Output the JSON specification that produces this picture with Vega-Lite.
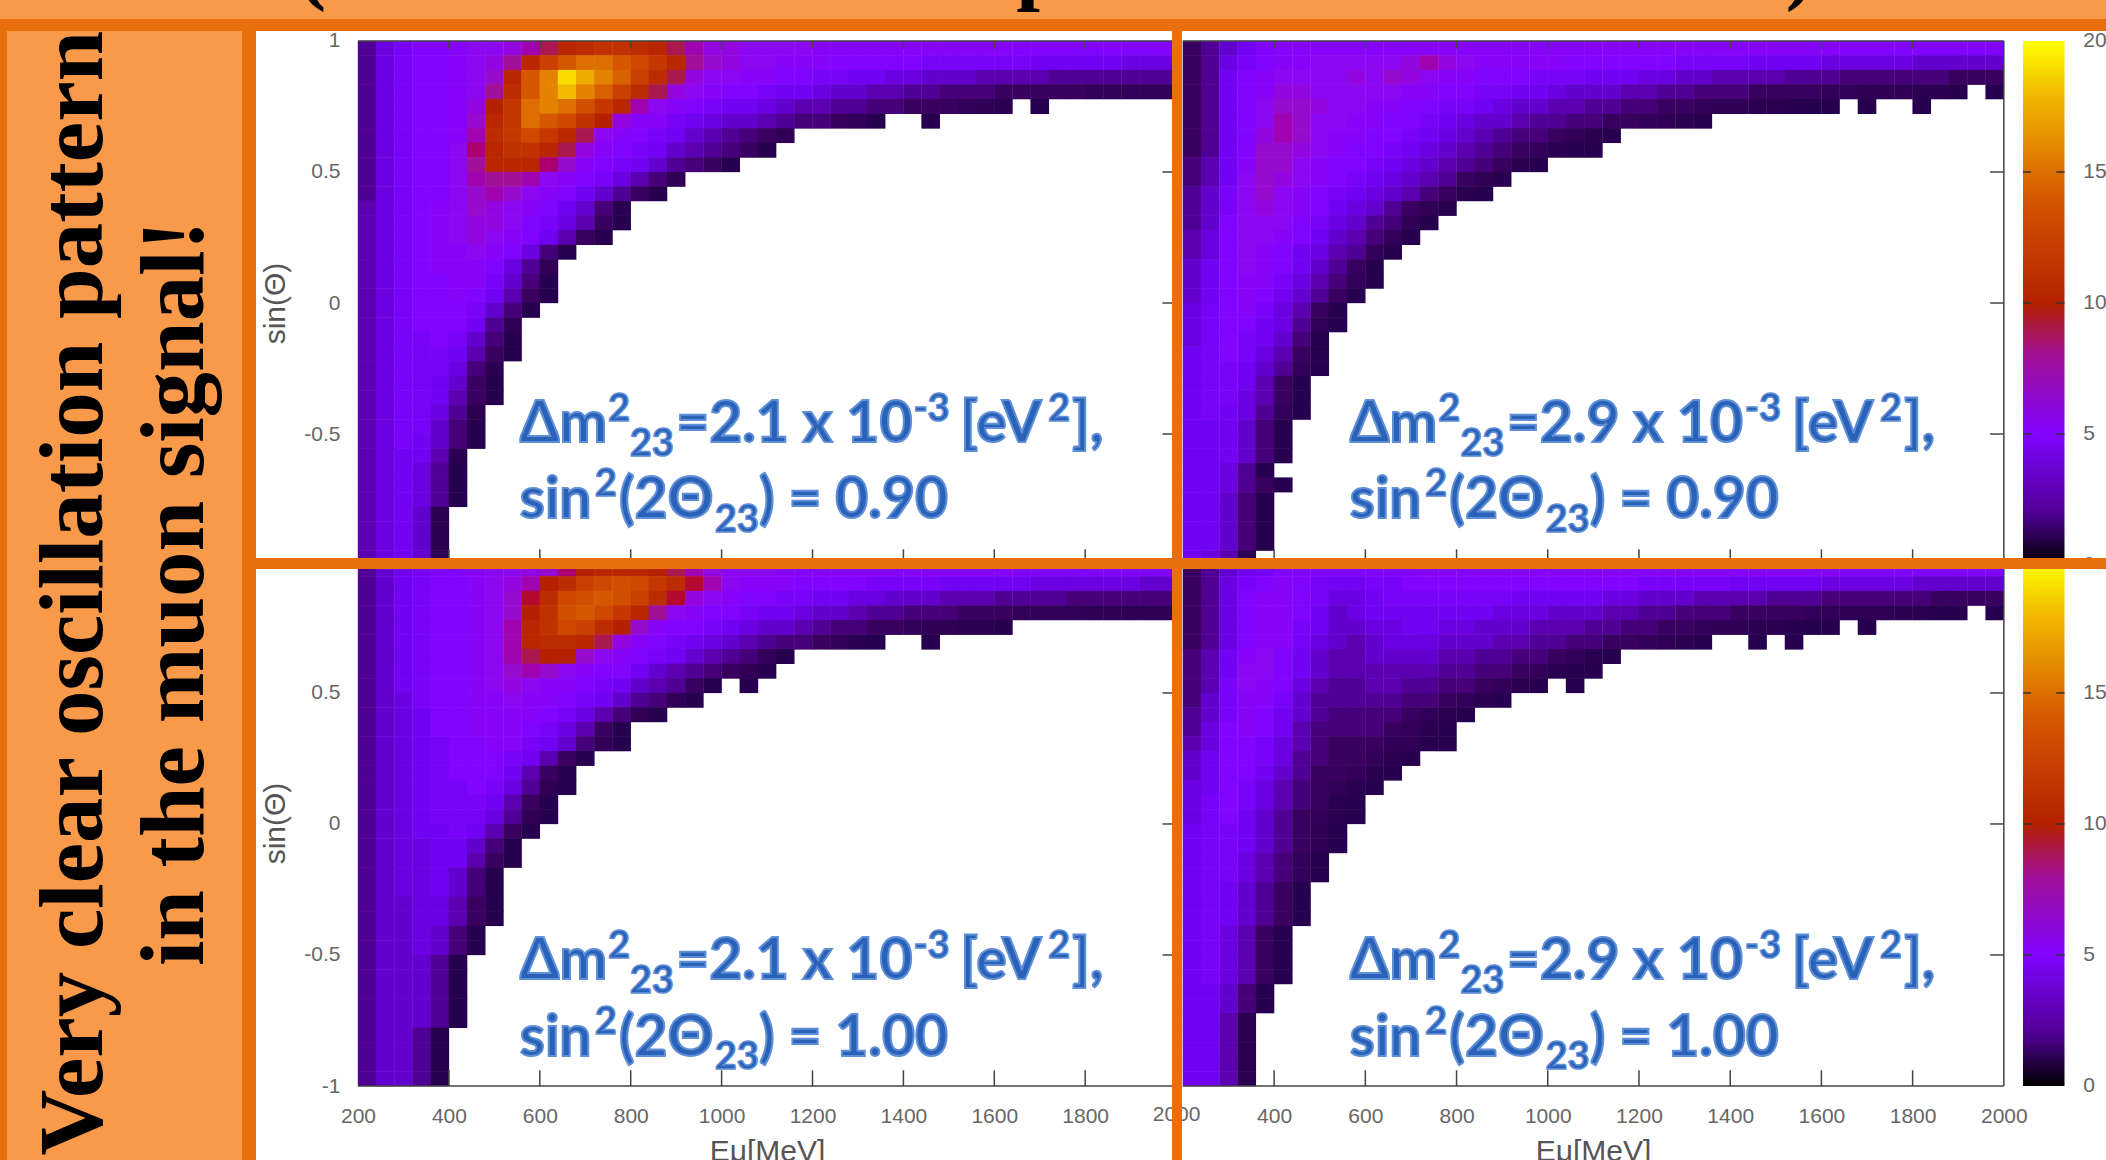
{"$schema":"https://vega.github.io/schema/vega-lite/v6.json","background":"#e96f0c","padding":0,
"config":{"view":{"stroke":null},"axis":{"labelFont":"Liberation Sans","titleFont":"Liberation Sans","labelFontSize":21,"titleFontSize":30,"labelColor":"#666","titleColor":"#555","titleFontWeight":"normal","grid":false,"domain":false,"ticks":false}},
"datasets":{
"cells":[
{"x":220,"y":0.972,"a":2,"b":1,"c":2,"d":1},{"x":260,"y":0.972,"a":3.5,"b":2,"c":3,"d":2},{"x":300,"y":0.972,"a":4.5,"b":3,"c":4,"d":3},{"x":340,"y":0.972,"a":5,"b":4,"c":4.5,"d":4},{"x":380,"y":0.972,"a":5,"b":5,"c":5,"d":4.5},{"x":420,"y":0.972,"a":5.5,"b":5.5,"c":5,"d":5},{"x":460,"y":0.972,"a":6,"b":5.5,"c":5.5,"d":5},{"x":500,"y":0.972,"a":6,"b":5.5,"c":6,"d":5},{"x":540,"y":0.972,"a":6.5,"b":5.5,"c":6,"d":5},{"x":580,"y":0.972,"a":7.5,"b":5.5,"c":6.5,"d":5},{"x":620,"y":0.972,"a":9,"b":5.5,"c":7,"d":5},{"x":660,"y":0.972,"a":10.5,"b":5.5,"c":8.5,"d":5},{"x":700,"y":0.972,"a":11,"b":5.5,"c":10,"d":5},{"x":740,"y":0.972,"a":11.5,"b":5.5,"c":10.5,"d":5.5},{"x":780,"y":0.972,"a":11.5,"b":5.5,"c":10.5,"d":5.5},{"x":820,"y":0.972,"a":11,"b":5.5,"c":10.5,"d":5.5},{"x":860,"y":0.972,"a":10.5,"b":5.5,"c":10,"d":5.5},{"x":900,"y":0.972,"a":9,"b":5.5,"c":9,"d":5.5},{"x":940,"y":0.972,"a":7.5,"b":5.5,"c":7.5,"d":5.5},{"x":980,"y":0.972,"a":6.5,"b":5.5,"c":6.5,"d":5.5},{"x":1020,"y":0.972,"a":6.5,"b":5.5,"c":6,"d":5.5},{"x":1060,"y":0.972,"a":6,"b":5.5,"c":6,"d":5.5},{"x":1100,"y":0.972,"a":6,"b":5.5,"c":6,"d":5.5},{"x":1140,"y":0.972,"a":6,"b":5.5,"c":5.5,"d":5.5},{"x":1180,"y":0.972,"a":6,"b":5.5,"c":5.5,"d":5.5},{"x":1220,"y":0.972,"a":5.5,"b":5.5,"c":5.5,"d":5.5},{"x":1260,"y":0.972,"a":5.5,"b":5.5,"c":5.5,"d":5.5},{"x":1300,"y":0.972,"a":5.5,"b":5.5,"c":5.5,"d":5.5},{"x":1340,"y":0.972,"a":5.5,"b":5.5,"c":5.5,"d":5.5},{"x":1380,"y":0.972,"a":5.5,"b":5.5,"c":5.5,"d":5.5},{"x":1420,"y":0.972,"a":5.5,"b":5.5,"c":5.5,"d":5.5},{"x":1460,"y":0.972,"a":5.5,"b":5.5,"c":5.5,"d":5.5},{"x":1500,"y":0.972,"a":5.5,"b":5.5,"c":5.5,"d":5.5},{"x":1540,"y":0.972,"a":5.5,"b":5.5,"c":5.5,"d":5.5},{"x":1580,"y":0.972,"a":5.5,"b":5.5,"c":5.5,"d":5.5},{"x":1620,"y":0.972,"a":5.5,"b":5.5,"c":5.5,"d":5.5},{"x":1660,"y":0.972,"a":5,"b":5,"c":5,"d":5},{"x":1700,"y":0.972,"a":5,"b":5,"c":5,"d":5},{"x":1740,"y":0.972,"a":5,"b":5,"c":5,"d":5},{"x":1780,"y":0.972,"a":5,"b":5,"c":5,"d":5},{"x":1820,"y":0.972,"a":5,"b":5,"c":5,"d":5},{"x":1860,"y":0.972,"a":5,"b":5,"c":5,"d":5},{"x":1900,"y":0.972,"a":5,"b":5,"c":5,"d":5},{"x":1940,"y":0.972,"a":5,"b":5,"c":5,"d":5},{"x":1980,"y":0.972,"a":5,"b":5,"c":5,"d":5},
{"x":220,"y":0.917,"a":2,"b":1,"c":2,"d":1},{"x":260,"y":0.917,"a":3.5,"b":2,"c":3,"d":2},{"x":300,"y":0.917,"a":4.5,"b":3.5,"c":4,"d":3.5},{"x":340,"y":0.917,"a":5,"b":4.5,"c":4.5,"d":4.5},{"x":380,"y":0.917,"a":5,"b":5,"c":5,"d":5},{"x":420,"y":0.917,"a":5.5,"b":5.5,"c":5,"d":5.5},{"x":460,"y":0.917,"a":6,"b":5.5,"c":5.5,"d":5},{"x":500,"y":0.917,"a":6.5,"b":6,"c":6,"d":4.5},{"x":540,"y":0.917,"a":8,"b":6,"c":6.5,"d":4},{"x":580,"y":0.917,"a":10.5,"b":6,"c":7.5,"d":4},{"x":620,"y":0.917,"a":12.5,"b":6,"c":10,"d":4.5},{"x":660,"y":0.917,"a":14,"b":6,"c":11,"d":4.5},{"x":700,"y":0.917,"a":15,"b":6.5,"c":12.5,"d":5},{"x":740,"y":0.917,"a":15,"b":7.5,"c":13,"d":5},{"x":780,"y":0.917,"a":14,"b":6.5,"c":13.5,"d":5},{"x":820,"y":0.917,"a":13,"b":6,"c":13,"d":5},{"x":860,"y":0.917,"a":12,"b":5.5,"c":12,"d":5},{"x":900,"y":0.917,"a":10.5,"b":5.5,"c":11,"d":5},{"x":940,"y":0.917,"a":8,"b":5.5,"c":9.5,"d":5},{"x":980,"y":0.917,"a":7,"b":5.5,"c":7.5,"d":5},{"x":1020,"y":0.917,"a":6.5,"b":5.5,"c":6,"d":5},{"x":1060,"y":0.917,"a":6,"b":5,"c":5.5,"d":5},{"x":1100,"y":0.917,"a":6,"b":5,"c":5.5,"d":5},{"x":1140,"y":0.917,"a":5.5,"b":5,"c":5.5,"d":5},{"x":1180,"y":0.917,"a":5.5,"b":5,"c":5,"d":5},{"x":1220,"y":0.917,"a":5.5,"b":5,"c":5,"d":4.5},{"x":1260,"y":0.917,"a":5,"b":5,"c":5,"d":4.5},{"x":1300,"y":0.917,"a":5,"b":4.5,"c":5,"d":4.5},{"x":1340,"y":0.917,"a":5,"b":4.5,"c":4.5,"d":4.5},{"x":1380,"y":0.917,"a":5,"b":4.5,"c":4.5,"d":4.5},{"x":1420,"y":0.917,"a":5,"b":4.5,"c":4.5,"d":4},{"x":1460,"y":0.917,"a":4.5,"b":4,"c":4.5,"d":4},{"x":1500,"y":0.917,"a":4.5,"b":4,"c":4,"d":4},{"x":1540,"y":0.917,"a":4.5,"b":4,"c":4,"d":4},{"x":1580,"y":0.917,"a":4.5,"b":4,"c":4,"d":4},{"x":1620,"y":0.917,"a":4.5,"b":3.5,"c":4,"d":3.5},{"x":1660,"y":0.917,"a":4.5,"b":3.5,"c":4,"d":3.5},{"x":1700,"y":0.917,"a":4,"b":3.5,"c":3.5,"d":3.5},{"x":1740,"y":0.917,"a":4,"b":3.5,"c":3.5,"d":3.5},{"x":1780,"y":0.917,"a":4,"b":3.5,"c":3.5,"d":3.5},{"x":1820,"y":0.917,"a":4,"b":3,"c":3.5,"d":3},{"x":1860,"y":0.917,"a":4,"b":3,"c":3.5,"d":3},{"x":1900,"y":0.917,"a":3.5,"b":3,"c":3.5,"d":3},{"x":1940,"y":0.917,"a":3.5,"b":3,"c":3,"d":3},{"x":1980,"y":0.917,"a":3.5,"b":3,"c":3,"d":3},
{"x":220,"y":0.861,"a":2,"b":1,"c":2,"d":1},{"x":260,"y":0.861,"a":3.5,"b":2,"c":3,"d":2},{"x":300,"y":0.861,"a":4.5,"b":4,"c":4,"d":3.5},{"x":340,"y":0.861,"a":5,"b":5,"c":4.5,"d":5},{"x":380,"y":0.861,"a":5,"b":5.5,"c":5,"d":5.5},{"x":420,"y":0.861,"a":5.5,"b":6,"c":5,"d":5.5},{"x":460,"y":0.861,"a":6,"b":6,"c":5.5,"d":5},{"x":500,"y":0.861,"a":7,"b":6,"c":6,"d":4.5},{"x":540,"y":0.861,"a":10.5,"b":6,"c":7,"d":3.5},{"x":580,"y":0.861,"a":14,"b":6.5,"c":9.5,"d":3.5},{"x":620,"y":0.861,"a":16,"b":6,"c":11,"d":4},{"x":660,"y":0.861,"a":19,"b":7,"c":13,"d":4.5},{"x":700,"y":0.861,"a":17.5,"b":6.5,"c":13.5,"d":4.5},{"x":740,"y":0.861,"a":16,"b":6,"c":14,"d":4.5},{"x":780,"y":0.861,"a":14.5,"b":5.5,"c":13.5,"d":4.5},{"x":820,"y":0.861,"a":12.5,"b":5.5,"c":12.5,"d":4.5},{"x":860,"y":0.861,"a":11,"b":5,"c":11,"d":4.5},{"x":900,"y":0.861,"a":9,"b":5,"c":9.5,"d":4.5},{"x":940,"y":0.861,"a":6.5,"b":5,"c":6.5,"d":4},{"x":980,"y":0.861,"a":6,"b":4.5,"c":6,"d":4},{"x":1020,"y":0.861,"a":6,"b":4.5,"c":5.5,"d":4},{"x":1060,"y":0.861,"a":5.5,"b":4.5,"c":5,"d":4},{"x":1100,"y":0.861,"a":5.5,"b":4,"c":5,"d":4},{"x":1140,"y":0.861,"a":5,"b":4,"c":4.5,"d":3.5},{"x":1180,"y":0.861,"a":5,"b":4,"c":4.5,"d":3.5},{"x":1220,"y":0.861,"a":4.5,"b":3.5,"c":4,"d":3},{"x":1260,"y":0.861,"a":4.5,"b":3.5,"c":4,"d":3},{"x":1300,"y":0.861,"a":4,"b":3,"c":3.5,"d":3},{"x":1340,"y":0.861,"a":4,"b":3,"c":3.5,"d":2.5},{"x":1380,"y":0.861,"a":3.5,"b":2.5,"c":3,"d":2.5},{"x":1420,"y":0.861,"a":3.5,"b":2.5,"c":3,"d":2.5},{"x":1460,"y":0.861,"a":3,"b":2.5,"c":3,"d":2.5},{"x":1500,"y":0.861,"a":3,"b":2.5,"c":2.5,"d":2},{"x":1540,"y":0.861,"a":3,"b":2,"c":2.5,"d":2},{"x":1580,"y":0.861,"a":2.5,"b":2,"c":2.5,"d":2},{"x":1620,"y":0.861,"a":2.5,"b":2,"c":2,"d":1.5},{"x":1660,"y":0.861,"a":2.5,"b":1.5,"c":2,"d":1.5},{"x":1700,"y":0.861,"a":2.5,"b":1.5,"c":2,"d":1.5},{"x":1740,"y":0.861,"a":2,"b":1.5,"c":2,"d":1.5},{"x":1780,"y":0.861,"a":2,"b":1.5,"c":1.5,"d":1.5},{"x":1820,"y":0.861,"a":2,"b":1.5,"c":1.5,"d":1.5},{"x":1860,"y":0.861,"a":2,"b":1.5,"c":1.5,"d":1},{"x":1900,"y":0.861,"a":2,"b":1,"c":1.5,"d":1},{"x":1940,"y":0.861,"a":2,"b":1,"c":1.5,"d":1},{"x":1980,"y":0.861,"a":2,"b":1,"c":1.5,"d":1},
{"x":220,"y":0.806,"a":2,"b":1,"c":2,"d":1},{"x":260,"y":0.806,"a":3.5,"b":2,"c":3,"d":2},{"x":300,"y":0.806,"a":4.5,"b":4,"c":4,"d":3.5},{"x":340,"y":0.806,"a":5,"b":5,"c":4.5,"d":5},{"x":380,"y":0.806,"a":5,"b":5.5,"c":5,"d":5.5},{"x":420,"y":0.806,"a":5.5,"b":6.5,"c":5,"d":5.5},{"x":460,"y":0.806,"a":6,"b":6.5,"c":5.5,"d":5},{"x":500,"y":0.806,"a":8,"b":6,"c":6,"d":4},{"x":540,"y":0.806,"a":11,"b":6,"c":7,"d":3},{"x":580,"y":0.806,"a":14,"b":6,"c":10,"d":3.5},{"x":620,"y":0.806,"a":16,"b":6,"c":11.5,"d":4},{"x":660,"y":0.806,"a":18,"b":6,"c":13.5,"d":4},{"x":700,"y":0.806,"a":16,"b":5.5,"c":14,"d":4},{"x":740,"y":0.806,"a":14.5,"b":5.5,"c":13,"d":4},{"x":780,"y":0.806,"a":12.5,"b":5,"c":12,"d":4},{"x":820,"y":0.806,"a":11,"b":5,"c":10.5,"d":4},{"x":860,"y":0.806,"a":9,"b":4.5,"c":8,"d":4},{"x":900,"y":0.806,"a":6.5,"b":4.5,"c":6,"d":3.5},{"x":940,"y":0.806,"a":6,"b":4,"c":5.5,"d":3.5},{"x":980,"y":0.806,"a":5.5,"b":4,"c":5,"d":3.5},{"x":1020,"y":0.806,"a":5,"b":3.5,"c":5,"d":3},{"x":1060,"y":0.806,"a":5,"b":3,"c":4.5,"d":3},{"x":1100,"y":0.806,"a":4.5,"b":3,"c":4,"d":3},{"x":1140,"y":0.806,"a":4,"b":3,"c":4,"d":2.5},{"x":1180,"y":0.806,"a":4,"b":2.5,"c":3.5,"d":2.5},{"x":1220,"y":0.806,"a":3.5,"b":2.5,"c":3,"d":2},{"x":1260,"y":0.806,"a":3,"b":2,"c":3,"d":2},{"x":1300,"y":0.806,"a":3,"b":2,"c":2.5,"d":1.5},{"x":1340,"y":0.806,"a":2.5,"b":1.5,"c":2,"d":1.5},{"x":1380,"y":0.806,"a":2.5,"b":1.5,"c":2,"d":1.5},{"x":1420,"y":0.806,"a":2,"b":1.5,"c":1.5,"d":1},{"x":1460,"y":0.806,"a":2,"b":1,"c":1.5,"d":1},{"x":1500,"y":0.806,"a":1.5,"b":1,"c":1.5,"d":1},{"x":1540,"y":0.806,"a":1.5,"b":1,"c":1,"d":1},{"x":1580,"y":0.806,"a":1.5,"b":1,"c":1,"d":0.8},{"x":1620,"y":0.806,"a":1,"b":0.8,"c":1,"d":0.8},{"x":1660,"y":0.806,"a":1,"b":0.8,"c":0.8,"d":0.7},{"x":1700,"y":0.806,"a":1,"b":0.7,"c":0.8,"d":0.7},{"x":1740,"y":0.806,"a":1,"b":0.7,"c":0.8,"d":0.7},{"x":1780,"y":0.806,"a":1,"b":0.7,"c":0.8,"d":0.6},{"x":1820,"y":0.806,"a":0.8,"b":0.6,"c":0.7,"d":0.6},{"x":1860,"y":0.806,"a":0.8,"b":0.6,"c":0.7,"d":0.5},{"x":1900,"y":0.806,"a":0.8,"b":0.5,"c":0.7,"d":0.5},{"x":1940,"y":0.806,"a":0.8,"c":0.7},{"x":1980,"y":0.806,"a":0.8,"b":0.5,"c":0.7,"d":0.5},
{"x":220,"y":0.75,"a":2,"b":1,"c":2,"d":1},{"x":260,"y":0.75,"a":3.5,"b":2,"c":3,"d":2},{"x":300,"y":0.75,"a":4.5,"b":4,"c":4,"d":3.5},{"x":340,"y":0.75,"a":5,"b":5,"c":4.5,"d":5},{"x":380,"y":0.75,"a":5,"b":6,"c":5,"d":5.5},{"x":420,"y":0.75,"a":5.5,"b":7,"c":5,"d":5.5},{"x":460,"y":0.75,"a":6.5,"b":7,"c":5.5,"d":4.5},{"x":500,"y":0.75,"a":10,"b":6.5,"c":6,"d":4},{"x":540,"y":0.75,"a":12,"b":6,"c":7.5,"d":3},{"x":580,"y":0.75,"a":15,"b":6,"c":10.5,"d":3},{"x":620,"y":0.75,"a":16,"b":5.5,"c":11.5,"d":3.5},{"x":660,"y":0.75,"a":15,"b":5.5,"c":13,"d":3.5},{"x":700,"y":0.75,"a":13.5,"b":5,"c":12.5,"d":4},{"x":740,"y":0.75,"a":12,"b":5,"c":11,"d":4},{"x":780,"y":0.75,"a":10.5,"b":4.5,"c":10,"d":3.5},{"x":820,"y":0.75,"a":7.5,"b":4.5,"c":7,"d":3.5},{"x":860,"y":0.75,"a":6,"b":4,"c":5.5,"d":3},{"x":900,"y":0.75,"a":5.5,"b":3.5,"c":5,"d":3},{"x":940,"y":0.75,"a":5,"b":3,"c":5,"d":3},{"x":980,"y":0.75,"a":4.5,"b":3,"c":4.5,"d":2.5},{"x":1020,"y":0.75,"a":4,"b":2.5,"c":4,"d":2.5},{"x":1060,"y":0.75,"a":4,"b":2.5,"c":3.5,"d":2.5},{"x":1100,"y":0.75,"a":3.5,"b":2,"c":3,"d":2},{"x":1140,"y":0.75,"a":3,"b":2,"c":3,"d":2},{"x":1180,"y":0.75,"a":2.5,"b":1.5,"c":2.5,"d":1.5},{"x":1220,"y":0.75,"a":2.5,"b":1.5,"c":2,"d":1.5},{"x":1260,"y":0.75,"a":2,"b":1,"c":1.5,"d":1},{"x":1300,"y":0.75,"a":2,"b":1,"c":1.5,"d":1},{"x":1340,"y":0.75,"a":1.5,"b":0.8,"c":1,"d":0.8},{"x":1380,"y":0.75,"a":1.5,"b":0.7,"c":1,"d":0.7},{"x":1420,"y":0.75,"a":1,"b":0.7,"c":0.8,"d":0.7},{"x":1460,"y":0.75,"a":1,"b":0.6,"c":0.7,"d":0.6},{"x":1500,"y":0.75,"a":1,"b":0.6,"c":0.7,"d":0.6},{"x":1540,"y":0.75,"a":0.8,"b":0.5,"c":0.6,"d":0.5},{"x":1580,"y":0.75,"a":0.7,"b":0.5,"c":0.6,"d":0.5},{"x":1620,"y":0.75,"a":0.6,"b":0.5,"c":0.5,"d":0.5},{"x":1700,"y":0.75,"a":0.5,"b":0.5,"d":0.5},{"x":1820,"y":0.75,"b":0.5},
{"x":220,"y":0.694,"a":2,"b":1,"c":2,"d":1},{"x":260,"y":0.694,"a":3.5,"b":2,"c":3,"d":2},{"x":300,"y":0.694,"a":4.5,"b":4,"c":4,"d":3.5},{"x":340,"y":0.694,"a":5,"b":5,"c":4.5,"d":5},{"x":380,"y":0.694,"a":5,"b":6,"c":5,"d":5.5},{"x":420,"y":0.694,"a":5.5,"b":7.5,"c":5,"d":5.5},{"x":460,"y":0.694,"a":7,"b":7,"c":5.5,"d":4.5},{"x":500,"y":0.694,"a":10.5,"b":6,"c":6,"d":3.5},{"x":540,"y":0.694,"a":12,"b":6,"c":7.5,"d":3},{"x":580,"y":0.694,"a":15,"b":5.5,"c":10.5,"d":2.5},{"x":620,"y":0.694,"a":14,"b":5.5,"c":11,"d":3},{"x":660,"y":0.694,"a":13,"b":5,"c":11,"d":3.5},{"x":700,"y":0.694,"a":11.5,"b":5,"c":10.5,"d":3.5},{"x":740,"y":0.694,"a":10,"b":4.5,"c":9,"d":3.5},{"x":780,"y":0.694,"a":6.5,"b":4,"c":6.5,"d":3},{"x":820,"y":0.694,"a":5.5,"b":3.5,"c":5.5,"d":3},{"x":860,"y":0.694,"a":5.5,"b":3,"c":5,"d":3},{"x":900,"y":0.694,"a":4.5,"b":3,"c":4.5,"d":2.5},{"x":940,"y":0.694,"a":4,"b":2.5,"c":4,"d":2.5},{"x":980,"y":0.694,"a":3.5,"b":2,"c":3.5,"d":2},{"x":1020,"y":0.694,"a":3,"b":2,"c":3,"d":2},{"x":1060,"y":0.694,"a":3,"b":1.5,"c":2.5,"d":1.5},{"x":1100,"y":0.694,"a":2.5,"b":1.5,"c":2,"d":1.5},{"x":1140,"y":0.694,"a":2,"b":1,"c":1.5,"d":1},{"x":1180,"y":0.694,"a":1.5,"b":1,"c":1.5,"d":1},{"x":1220,"y":0.694,"a":1.5,"b":0.8,"c":1,"d":0.8},{"x":1260,"y":0.694,"a":1,"b":0.7,"c":0.8,"d":0.7},{"x":1300,"y":0.694,"a":0.8,"b":0.6,"c":0.6,"d":0.6},{"x":1340,"y":0.694,"a":0.5,"b":0.5,"c":0.5,"d":0.5},{"x":1460,"y":0.694,"a":0.5,"c":0.5,"d":0.5},{"x":1540,"y":0.694,"d":0.5},
{"x":220,"y":0.639,"a":2,"b":1,"c":2,"d":1.5},{"x":260,"y":0.639,"a":3.5,"b":2,"c":3,"d":2.5},{"x":300,"y":0.639,"a":4.5,"b":4,"c":4,"d":4},{"x":340,"y":0.639,"a":5,"b":5,"c":4.5,"d":5.5},{"x":380,"y":0.639,"a":5,"b":6.5,"c":5,"d":6},{"x":420,"y":0.639,"a":5.5,"b":7.5,"c":5,"d":5},{"x":460,"y":0.639,"a":7.5,"b":7,"c":5.5,"d":4},{"x":500,"y":0.639,"a":11,"b":6,"c":6,"d":3},{"x":540,"y":0.639,"a":12,"b":5.5,"c":7.5,"d":2.5},{"x":580,"y":0.639,"a":13,"b":5.5,"c":9,"d":2.5},{"x":620,"y":0.639,"a":12,"b":5,"c":10,"d":3},{"x":660,"y":0.639,"a":10.5,"b":5,"c":10,"d":3},{"x":700,"y":0.639,"a":9,"b":4.5,"c":7,"d":3},{"x":740,"y":0.639,"a":6,"b":4,"c":6,"d":3},{"x":780,"y":0.639,"a":5.5,"b":3.5,"c":5.5,"d":2.5},{"x":820,"y":0.639,"a":5,"b":3,"c":5,"d":2.5},{"x":860,"y":0.639,"a":4.5,"b":2.5,"c":4.5,"d":2},{"x":900,"y":0.639,"a":4,"b":2,"c":4,"d":2},{"x":940,"y":0.639,"a":3,"b":1.5,"c":3,"d":1.5},{"x":980,"y":0.639,"a":2.5,"b":1.5,"c":2.5,"d":1.5},{"x":1020,"y":0.639,"a":2,"b":1,"c":2,"d":1},{"x":1060,"y":0.639,"a":1.5,"b":0.8,"c":1.5,"d":0.8},{"x":1100,"y":0.639,"a":1,"b":0.6,"c":0.8,"d":0.6},{"x":1140,"y":0.639,"a":0.7,"b":0.5,"c":0.5,"d":0.5},
{"x":220,"y":0.583,"a":2,"b":1,"c":2,"d":1.5},{"x":260,"y":0.583,"a":3.5,"b":2,"c":3,"d":2.5},{"x":300,"y":0.583,"a":4.5,"b":4,"c":4,"d":4},{"x":340,"y":0.583,"a":5,"b":5,"c":4.5,"d":6},{"x":380,"y":0.583,"a":5,"b":7,"c":5,"d":6},{"x":420,"y":0.583,"a":6,"b":7,"c":5,"d":5},{"x":460,"y":0.583,"a":8.5,"b":6.5,"c":5.5,"d":4},{"x":500,"y":0.583,"a":10.5,"b":6,"c":6,"d":3},{"x":540,"y":0.583,"a":11.5,"b":5.5,"c":7,"d":2.5},{"x":580,"y":0.583,"a":11.5,"b":5,"c":7.5,"d":2.5},{"x":620,"y":0.583,"a":10.5,"b":5,"c":7,"d":2.5},{"x":660,"y":0.583,"a":9,"b":4.5,"c":6,"d":2.5},{"x":700,"y":0.583,"a":6.5,"b":4,"c":5.5,"d":2.5},{"x":740,"y":0.583,"a":5.5,"b":3.5,"c":5,"d":2.5},{"x":780,"y":0.583,"a":5,"b":3,"c":5,"d":2},{"x":820,"y":0.583,"a":4.5,"b":2.5,"c":4,"d":2},{"x":860,"y":0.583,"a":4,"b":2,"c":3,"d":1.5},{"x":900,"y":0.583,"a":3,"b":1.5,"c":2.5,"d":1.5},{"x":940,"y":0.583,"a":2.5,"b":1,"c":2,"d":1},{"x":980,"y":0.583,"a":2,"b":0.8,"c":1.5,"d":0.8},{"x":1020,"y":0.583,"a":1.5,"b":0.6,"c":1,"d":0.6},{"x":1060,"y":0.583,"a":1,"b":0.5,"c":0.7,"d":0.5},{"x":1100,"y":0.583,"a":0.5,"b":0.5,"c":0.5,"d":0.5},
{"x":220,"y":0.528,"a":2,"b":1.5,"c":2,"d":1.5},{"x":260,"y":0.528,"a":3.5,"b":2.5,"c":3,"d":2.5},{"x":300,"y":0.528,"a":4.5,"b":4,"c":4,"d":4.5},{"x":340,"y":0.528,"a":5,"b":5.5,"c":4.5,"d":6},{"x":380,"y":0.528,"a":5,"b":7,"c":5,"d":5.5},{"x":420,"y":0.528,"a":6,"b":7,"c":5,"d":5},{"x":460,"y":0.528,"a":8,"b":6,"c":5.5,"d":3.5},{"x":500,"y":0.528,"a":10.5,"b":5.5,"c":6,"d":2.5},{"x":540,"y":0.528,"a":10.5,"b":5,"c":6.5,"d":2},{"x":580,"y":0.528,"a":10.5,"b":5,"c":6,"d":2},{"x":620,"y":0.528,"a":8.5,"b":4.5,"c":5.5,"d":2.5},{"x":660,"y":0.528,"a":7,"b":4,"c":5.5,"d":2.5},{"x":700,"y":0.528,"a":5.5,"b":3.5,"c":5,"d":2},{"x":740,"y":0.528,"a":5,"b":3,"c":4.5,"d":2},{"x":780,"y":0.528,"a":4.5,"b":2.5,"c":4,"d":1.5},{"x":820,"y":0.528,"a":4,"b":2,"c":3,"d":1.5},{"x":860,"y":0.528,"a":3,"b":1.5,"c":2.5,"d":1},{"x":900,"y":0.528,"a":2,"b":1,"c":2,"d":0.8},{"x":940,"y":0.528,"a":1.5,"b":0.6,"c":1,"d":0.6},{"x":980,"y":0.528,"a":1,"b":0.5,"c":0.5,"d":0.5},{"x":1020,"y":0.528,"a":0.5},{"x":1060,"y":0.528,"c":0.5,"d":0.5},
{"x":220,"y":0.472,"a":2,"b":1.5,"c":2,"d":1.5},{"x":260,"y":0.472,"a":3.5,"b":2.5,"c":3,"d":3},{"x":300,"y":0.472,"a":4.5,"b":4,"c":3.5,"d":4.5},{"x":340,"y":0.472,"a":5,"b":6,"c":4.5,"d":5.5},{"x":380,"y":0.472,"a":5,"b":7,"c":5,"d":5.5},{"x":420,"y":0.472,"a":6,"b":6.5,"c":5,"d":4.5},{"x":460,"y":0.472,"a":7.5,"b":6,"c":5.5,"d":3},{"x":500,"y":0.472,"a":8,"b":5.5,"c":5.5,"d":2},{"x":540,"y":0.472,"a":8,"b":5,"c":6,"d":2},{"x":580,"y":0.472,"a":7.5,"b":4.5,"c":5.5,"d":2},{"x":620,"y":0.472,"a":6,"b":4,"c":5.5,"d":2},{"x":660,"y":0.472,"a":5.5,"b":3.5,"c":5,"d":2},{"x":700,"y":0.472,"a":5,"b":3,"c":4.5,"d":1.5},{"x":740,"y":0.472,"a":4.5,"b":2.5,"c":4,"d":1.5},{"x":780,"y":0.472,"a":3.5,"b":2,"c":3,"d":1},{"x":820,"y":0.472,"a":2.5,"b":1,"c":2,"d":0.8},{"x":860,"y":0.472,"a":1.5,"b":0.7,"c":1.5,"d":0.6},{"x":900,"y":0.472,"a":0.7,"b":0.5,"c":0.7,"d":0.5},{"x":940,"y":0.472,"c":0.5},
{"x":220,"y":0.417,"a":2,"b":2,"c":2,"d":2},{"x":260,"y":0.417,"a":3.5,"b":3,"c":3,"d":3},{"x":300,"y":0.417,"a":4.5,"b":4.5,"c":3.5,"d":4.5},{"x":340,"y":0.417,"a":5,"b":6,"c":4,"d":5.5},{"x":380,"y":0.417,"a":5,"b":7,"c":5,"d":5},{"x":420,"y":0.417,"a":6,"b":6,"c":5,"d":4},{"x":460,"y":0.417,"a":7,"b":5.5,"c":5.5,"d":3},{"x":500,"y":0.417,"a":7.5,"b":5,"c":5.5,"d":2},{"x":540,"y":0.417,"a":7,"b":4.5,"c":5.5,"d":1.5},{"x":580,"y":0.417,"a":6,"b":4,"c":5.5,"d":1.5},{"x":620,"y":0.417,"a":5.5,"b":3.5,"c":5,"d":1.5},{"x":660,"y":0.417,"a":5,"b":3,"c":4.5,"d":1.5},{"x":700,"y":0.417,"a":4,"b":2.5,"c":3.5,"d":1},{"x":740,"y":0.417,"a":3,"b":1.5,"c":2.5,"d":0.8},{"x":780,"y":0.417,"a":2,"b":1,"c":1.5,"d":0.6},{"x":820,"y":0.417,"a":1,"b":0.6,"c":0.7,"d":0.5},{"x":860,"y":0.417,"a":0.5,"b":0.5,"c":0.5},
{"x":220,"y":0.361,"a":2.5,"b":2,"c":2,"d":2},{"x":260,"y":0.361,"a":3.5,"b":3,"c":3,"d":3.5},{"x":300,"y":0.361,"a":4.5,"b":4.5,"c":3.5,"d":5},{"x":340,"y":0.361,"a":5,"b":6,"c":4,"d":5.5},{"x":380,"y":0.361,"a":5.5,"b":6.5,"c":5,"d":5},{"x":420,"y":0.361,"a":6,"b":6,"c":5,"d":4},{"x":460,"y":0.361,"a":7,"b":5.5,"c":5.5,"d":2.5},{"x":500,"y":0.361,"a":6.5,"b":5,"c":5.5,"d":1.5},{"x":540,"y":0.361,"a":6,"b":4,"c":5.5,"d":1.5},{"x":580,"y":0.361,"a":5.5,"b":3.5,"c":5,"d":1.5},{"x":620,"y":0.361,"a":5,"b":3,"c":4.5,"d":1.5},{"x":660,"y":0.361,"a":4,"b":2,"c":3.5,"d":1},{"x":700,"y":0.361,"a":3,"b":1,"c":2.5,"d":0.8},{"x":740,"y":0.361,"a":1.5,"b":0.7,"c":1,"d":0.6},{"x":780,"y":0.361,"a":0.6,"b":0.5,"c":0.5,"d":0.5},
{"x":220,"y":0.306,"a":2.5,"b":2,"c":2,"d":2.5},{"x":260,"y":0.306,"a":3.5,"b":3,"c":3,"d":3.5},{"x":300,"y":0.306,"a":4.5,"b":5,"c":3.5,"d":5},{"x":340,"y":0.306,"a":5,"b":6,"c":4,"d":5},{"x":380,"y":0.306,"a":5.5,"b":6,"c":4.5,"d":4.5},{"x":420,"y":0.306,"a":6,"b":6,"c":5,"d":3.5},{"x":460,"y":0.306,"a":6.5,"b":5,"c":5,"d":2.5},{"x":500,"y":0.306,"a":6.5,"b":4.5,"c":5.5,"d":1.5},{"x":540,"y":0.306,"a":6,"b":3.5,"c":5.5,"d":1},{"x":580,"y":0.306,"a":5,"b":3,"c":4.5,"d":1},{"x":620,"y":0.306,"a":4.5,"b":2,"c":4,"d":1},{"x":660,"y":0.306,"a":3.5,"b":1.5,"c":3,"d":0.8},{"x":700,"y":0.306,"a":2.5,"b":0.7,"c":1.5,"d":0.7},{"x":740,"y":0.306,"a":1,"b":0.5,"c":0.7,"d":0.5},{"x":780,"y":0.306,"a":0.5,"c":0.5,"d":0.5},
{"x":220,"y":0.25,"a":2.5,"b":2.5,"c":2,"d":3},{"x":260,"y":0.25,"a":3.5,"b":3.5,"c":3,"d":4},{"x":300,"y":0.25,"a":4.5,"b":5,"c":3.5,"d":5},{"x":340,"y":0.25,"a":5,"b":6,"c":4,"d":5},{"x":380,"y":0.25,"a":5.5,"b":6,"c":4.5,"d":4.5},{"x":420,"y":0.25,"a":6,"b":5.5,"c":5,"d":3.5},{"x":460,"y":0.25,"a":6.5,"b":5,"c":5,"d":2},{"x":500,"y":0.25,"a":6,"b":4,"c":5,"d":1.5},{"x":540,"y":0.25,"a":5.5,"b":3,"c":4.5,"d":1},{"x":580,"y":0.25,"a":5,"b":2.5,"c":4,"d":1},{"x":620,"y":0.25,"a":4,"b":1.5,"c":2.5,"d":0.8},{"x":660,"y":0.25,"a":2.5,"b":0.8,"c":1,"d":0.6},{"x":700,"y":0.25,"a":1,"b":0.5,"c":0.5,"d":0.5},{"x":740,"y":0.25,"a":0.5},
{"x":220,"y":0.194,"a":2.5,"b":2.5,"c":2,"d":3},{"x":260,"y":0.194,"a":3.5,"b":3.5,"c":3,"d":4},{"x":300,"y":0.194,"a":4.5,"b":5,"c":3.5,"d":5},{"x":340,"y":0.194,"a":5,"b":6,"c":4,"d":5},{"x":380,"y":0.194,"a":5.5,"b":5.5,"c":4.5,"d":4},{"x":420,"y":0.194,"a":5.5,"b":5,"c":5,"d":3},{"x":460,"y":0.194,"a":6,"b":4,"c":5,"d":2},{"x":500,"y":0.194,"a":5.5,"b":3.5,"c":5,"d":1},{"x":540,"y":0.194,"a":5,"b":2.5,"c":4,"d":1},{"x":580,"y":0.194,"a":3.5,"b":2,"c":2.5,"d":0.8},{"x":620,"y":0.194,"a":1.5,"b":0.8,"c":1,"d":0.6},{"x":660,"y":0.194,"a":0.5,"b":0.5,"c":0.5,"d":0.5},
{"x":220,"y":0.139,"a":2.5,"b":3,"c":2,"d":3.5},{"x":260,"y":0.139,"a":3.5,"b":4,"c":3,"d":4},{"x":300,"y":0.139,"a":4.5,"b":5,"c":3.5,"d":5},{"x":340,"y":0.139,"a":5,"b":6,"c":4,"d":4.5},{"x":380,"y":0.139,"a":5.5,"b":5.5,"c":4.5,"d":3.5},{"x":420,"y":0.139,"a":5.5,"b":5,"c":4.5,"d":2.5},{"x":460,"y":0.139,"a":5.5,"b":4,"c":5,"d":1.5},{"x":500,"y":0.139,"a":5,"b":3,"c":4.5,"d":1},{"x":540,"y":0.139,"a":3.5,"b":2,"c":3.5,"d":0.8},{"x":580,"y":0.139,"a":2,"b":1,"c":2,"d":0.6},{"x":620,"y":0.139,"a":0.7,"b":0.5,"c":0.7,"d":0.5},{"x":660,"y":0.139,"c":0.5},
{"x":220,"y":0.083,"a":2.5,"b":3,"c":2,"d":3.5},{"x":260,"y":0.083,"a":3.5,"b":4,"c":3,"d":4.5},{"x":300,"y":0.083,"a":4.5,"b":5,"c":3.5,"d":5},{"x":340,"y":0.083,"a":5,"b":5.5,"c":4,"d":4.5},{"x":380,"y":0.083,"a":5,"b":5.5,"c":4.5,"d":3.5},{"x":420,"y":0.083,"a":5.5,"b":4.5,"c":4.5,"d":2.5},{"x":460,"y":0.083,"a":5.5,"b":3.5,"c":4.5,"d":1.5},{"x":500,"y":0.083,"a":4.5,"b":2.5,"c":4,"d":1},{"x":540,"y":0.083,"a":3,"b":1.5,"c":2.5,"d":0.6},{"x":580,"y":0.083,"a":1.5,"b":0.8,"c":1,"d":0.5},{"x":620,"y":0.083,"a":0.5,"b":0.5,"c":0.5},
{"x":220,"y":0.028,"a":2.5,"b":3,"c":2,"d":3.5},{"x":260,"y":0.028,"a":3.5,"b":4,"c":3,"d":4.5},{"x":300,"y":0.028,"a":4.5,"b":5,"c":3.5,"d":5},{"x":340,"y":0.028,"a":5,"b":5.5,"c":4,"d":4},{"x":380,"y":0.028,"a":5,"b":5,"c":4.5,"d":3},{"x":420,"y":0.028,"a":5.5,"b":4,"c":4.5,"d":2},{"x":460,"y":0.028,"a":5,"b":3,"c":4.5,"d":1},{"x":500,"y":0.028,"a":4,"b":2,"c":3.5,"d":0.8},{"x":540,"y":0.028,"a":2.5,"b":1,"c":2,"d":0.6},{"x":580,"y":0.028,"a":1,"b":0.5,"c":0.7,"d":0.5},{"x":620,"y":0.028,"a":0.5,"c":0.5},
{"x":220,"y":-0.028,"a":2.5,"b":3.5,"c":2,"d":4},{"x":260,"y":-0.028,"a":3.5,"b":4.5,"c":3,"d":4.5},{"x":300,"y":-0.028,"a":4.5,"b":5,"c":3.5,"d":4.5},{"x":340,"y":-0.028,"a":5,"b":5.5,"c":4,"d":4},{"x":380,"y":-0.028,"a":5,"b":4.5,"c":4,"d":3},{"x":420,"y":-0.028,"a":5,"b":3.5,"c":4.5,"d":2},{"x":460,"y":-0.028,"a":4.5,"b":2.5,"c":4,"d":1},{"x":500,"y":-0.028,"a":3,"b":1,"c":2.5,"d":0.7},{"x":540,"y":-0.028,"a":1.5,"b":0.5,"c":1,"d":0.5},{"x":580,"y":-0.028,"a":0.5,"c":0.5},
{"x":220,"y":-0.083,"a":2.5,"b":3.5,"c":2,"d":4},{"x":260,"y":-0.083,"a":3.5,"b":4.5,"c":3,"d":4.5},{"x":300,"y":-0.083,"a":4.5,"b":5,"c":3.5,"d":4.5},{"x":340,"y":-0.083,"a":5,"b":5,"c":3.5,"d":4},{"x":380,"y":-0.083,"a":5,"b":4,"c":4,"d":3},{"x":420,"y":-0.083,"a":5,"b":3.5,"c":4,"d":2},{"x":460,"y":-0.083,"a":4,"b":2,"c":3,"d":1},{"x":500,"y":-0.083,"a":2,"b":0.8,"c":1.5,"d":0.7},{"x":540,"y":-0.083,"a":0.7,"b":0.5,"c":0.5,"d":0.5},
{"x":220,"y":-0.139,"a":2.5,"b":3.5,"c":2,"d":4},{"x":260,"y":-0.139,"a":3.5,"b":4.5,"c":3,"d":4.5},{"x":300,"y":-0.139,"a":4.5,"b":5,"c":3.5,"d":4.5},{"x":340,"y":-0.139,"a":4.5,"b":4.5,"c":3.5,"d":3.5},{"x":380,"y":-0.139,"a":5,"b":4,"c":4,"d":2.5},{"x":420,"y":-0.139,"a":4.5,"b":3,"c":4,"d":1.5},{"x":460,"y":-0.139,"a":3,"b":1.5,"c":2.5,"d":0.8},{"x":500,"y":-0.139,"a":1.5,"b":0.5,"c":1,"d":0.5},{"x":540,"y":-0.139,"a":0.5,"c":0.5},
{"x":220,"y":-0.194,"a":2.5,"b":4,"c":2,"d":4},{"x":260,"y":-0.194,"a":3.5,"b":4.5,"c":3,"d":4.5},{"x":300,"y":-0.194,"a":4.5,"b":5,"c":3.5,"d":4.5},{"x":340,"y":-0.194,"a":4.5,"b":4.5,"c":3.5,"d":3.5},{"x":380,"y":-0.194,"a":4.5,"b":3.5,"c":4,"d":2.5},{"x":420,"y":-0.194,"a":4,"b":2.5,"c":3,"d":1.5},{"x":460,"y":-0.194,"a":2.5,"b":1,"c":1.5,"d":0.8},{"x":500,"y":-0.194,"a":1,"b":0.5,"c":0.5,"d":0.5},{"x":540,"y":-0.194,"a":0.5},
{"x":220,"y":-0.25,"a":2.5,"b":4,"c":2,"d":4},{"x":260,"y":-0.25,"a":3.5,"b":4.5,"c":3,"d":4.5},{"x":300,"y":-0.25,"a":4.5,"b":4.5,"c":3.5,"d":4},{"x":340,"y":-0.25,"a":4.5,"b":4,"c":3.5,"d":3},{"x":380,"y":-0.25,"a":4.5,"b":3,"c":4,"d":2},{"x":420,"y":-0.25,"a":3.5,"b":2,"c":3,"d":1},{"x":460,"y":-0.25,"a":1.5,"b":0.8,"c":1.5,"d":0.5},{"x":500,"y":-0.25,"a":0.6,"b":0.5,"c":0.5},
{"x":220,"y":-0.306,"a":2.5,"b":4,"c":2,"d":4},{"x":260,"y":-0.306,"a":3.5,"b":4.5,"c":3,"d":4.5},{"x":300,"y":-0.306,"a":4.5,"b":4.5,"c":3,"d":4},{"x":340,"y":-0.306,"a":4.5,"b":4,"c":3.5,"d":3},{"x":380,"y":-0.306,"a":4,"b":2.5,"c":3.5,"d":2},{"x":420,"y":-0.306,"a":3,"b":1,"c":2.5,"d":1},{"x":460,"y":-0.306,"a":1,"b":0.5,"c":1,"d":0.5},{"x":500,"y":-0.306,"a":0.5,"c":0.5},
{"x":220,"y":-0.361,"a":2.5,"b":4,"c":2,"d":4},{"x":260,"y":-0.361,"a":3.5,"b":4.5,"c":3,"d":4.5},{"x":300,"y":-0.361,"a":4.5,"b":4.5,"c":3,"d":4},{"x":340,"y":-0.361,"a":4.5,"b":3.5,"c":3.5,"d":3},{"x":380,"y":-0.361,"a":4,"b":2.5,"c":3.5,"d":2},{"x":420,"y":-0.361,"a":2.5,"b":1,"c":2.5,"d":1},{"x":460,"y":-0.361,"a":1,"b":0.5,"c":1,"d":0.5},{"x":500,"y":-0.361,"a":0.5,"c":0.5},
{"x":220,"y":-0.417,"a":2.5,"b":4,"c":2,"d":4},{"x":260,"y":-0.417,"a":3.5,"b":4.5,"c":3,"d":4.5},{"x":300,"y":-0.417,"a":4.5,"b":4,"c":3,"d":3.5},{"x":340,"y":-0.417,"a":4.5,"b":3.5,"c":3.5,"d":2.5},{"x":380,"y":-0.417,"a":3.5,"b":2,"c":3,"d":1},{"x":420,"y":-0.417,"a":2,"b":0.8,"c":1.5,"d":0.5},{"x":460,"y":-0.417,"a":0.6,"b":0.5,"c":0.5},
{"x":220,"y":-0.472,"a":2.5,"b":4,"c":2,"d":4},{"x":260,"y":-0.472,"a":3.5,"b":4,"c":3,"d":4.5},{"x":300,"y":-0.472,"a":4.5,"b":4,"c":3,"d":3.5},{"x":340,"y":-0.472,"a":4.5,"b":3,"c":3.5,"d":2.5},{"x":380,"y":-0.472,"a":3,"b":1.5,"c":3,"d":1},{"x":420,"y":-0.472,"a":1.5,"b":0.5,"c":1.5,"d":0.5},{"x":460,"y":-0.472,"a":0.5,"c":0.5},
{"x":220,"y":-0.528,"a":2.5,"b":4,"c":2,"d":4},{"x":260,"y":-0.528,"a":3.5,"b":4,"c":3,"d":4.5},{"x":300,"y":-0.528,"a":4.5,"b":4,"c":3,"d":3.5},{"x":340,"y":-0.528,"a":4,"b":3,"c":3,"d":2.5},{"x":380,"y":-0.528,"a":3,"b":1.5,"c":2,"d":1},{"x":420,"y":-0.528,"a":1.5,"b":0.5,"c":0.5,"d":0.5},{"x":460,"y":-0.528,"a":0.5},
{"x":220,"y":-0.583,"a":2.5,"b":4,"c":2,"d":4},{"x":260,"y":-0.583,"a":3.5,"b":4,"c":3,"d":4.5},{"x":300,"y":-0.583,"a":4,"b":4,"c":3,"d":3.5},{"x":340,"y":-0.583,"a":4,"b":3,"c":3,"d":2.5},{"x":380,"y":-0.583,"a":2.5,"b":1.5,"c":2,"d":1},{"x":420,"y":-0.583,"a":0.6,"b":0.5,"c":0.5,"d":0.5},
{"x":220,"y":-0.639,"a":2.5,"b":4,"c":2,"d":4},{"x":260,"y":-0.639,"a":3.5,"b":4,"c":3,"d":4},{"x":300,"y":-0.639,"a":4,"b":3.5,"c":3,"d":3},{"x":340,"y":-0.639,"a":3.5,"b":2,"c":3,"d":1.5},{"x":380,"y":-0.639,"a":2,"b":0.5,"c":2,"d":0.5},{"x":420,"y":-0.639,"a":0.5,"c":0.5},
{"x":220,"y":-0.694,"a":2.5,"b":4,"c":2,"d":4},{"x":260,"y":-0.694,"a":3.5,"b":4,"c":3,"d":4},{"x":300,"y":-0.694,"a":4,"b":3.5,"c":3,"d":3},{"x":340,"y":-0.694,"a":3.5,"b":2,"c":3,"d":1.5},{"x":380,"y":-0.694,"a":2,"b":1,"c":2,"d":0.5},{"x":420,"y":-0.694,"a":0.5,"b":0.5,"c":0.5},
{"x":220,"y":-0.75,"a":2.5,"b":4,"c":2,"d":4},{"x":260,"y":-0.75,"a":3.5,"b":4,"c":3,"d":4},{"x":300,"y":-0.75,"a":4,"b":3,"c":3,"d":2.5},{"x":340,"y":-0.75,"a":3.5,"b":1.5,"c":3,"d":0.6},{"x":380,"y":-0.75,"a":2,"b":0.5,"c":2},{"x":420,"y":-0.75,"a":0.5,"c":0.5},
{"x":220,"y":-0.806,"a":2.5,"b":4,"c":2,"d":4},{"x":260,"y":-0.806,"a":3.5,"b":4,"c":3,"d":4},{"x":300,"y":-0.806,"a":4,"b":3,"c":3,"d":2.5},{"x":340,"y":-0.806,"a":3,"b":1.5,"c":2,"d":0.6},{"x":380,"y":-0.806,"a":0.6,"b":0.5,"c":0.5},
{"x":220,"y":-0.861,"a":2.5,"b":4,"c":2,"d":4},{"x":260,"y":-0.861,"a":3.5,"b":4,"c":3,"d":4},{"x":300,"y":-0.861,"a":4,"b":3,"c":3,"d":2.5},{"x":340,"y":-0.861,"a":3,"b":1.5,"c":2,"d":0.6},{"x":380,"y":-0.861,"a":0.6,"b":0.5,"c":0.5},
{"x":220,"y":-0.917,"a":2.5,"b":4,"c":2,"d":4},{"x":260,"y":-0.917,"a":3.5,"b":4,"c":3,"d":4},{"x":300,"y":-0.917,"a":4,"b":3,"c":3,"d":2.5},{"x":340,"y":-0.917,"a":3,"b":1.5,"c":2,"d":0.6},{"x":380,"y":-0.917,"a":0.6,"b":0.5,"c":0.5},
{"x":220,"y":-0.972,"a":2.5,"b":4,"c":2,"d":4},{"x":260,"y":-0.972,"a":3.5,"b":3.5,"c":3,"d":4},{"x":300,"y":-0.972,"a":4,"b":2.5,"c":3,"d":2.5},{"x":340,"y":-0.972,"a":3,"b":0.6,"c":2,"d":0.6},{"x":380,"y":-0.972,"a":0.6,"c":0.5}
],
"frame":[{"x":200,"y":1,"x2":2000,"y2":1},{"x":200,"y":-1,"x2":2000,"y2":-1},{"x":2000,"y":-1,"x2":2000,"y2":1},{"x":400,"y":1,"x2":400,"y2":0.97},{"x":600,"y":1,"x2":600,"y2":0.97},{"x":800,"y":1,"x2":800,"y2":0.97},{"x":1000,"y":1,"x2":1000,"y2":0.97},{"x":1200,"y":1,"x2":1200,"y2":0.97},{"x":1400,"y":1,"x2":1400,"y2":0.97},{"x":1600,"y":1,"x2":1600,"y2":0.97},{"x":1800,"y":1,"x2":1800,"y2":0.97},{"x":400,"y":-1,"x2":400,"y2":-0.94},{"x":600,"y":-1,"x2":600,"y2":-0.94},{"x":800,"y":-1,"x2":800,"y2":-0.94},{"x":1000,"y":-1,"x2":1000,"y2":-0.94},{"x":1200,"y":-1,"x2":1200,"y2":-0.94},{"x":1400,"y":-1,"x2":1400,"y2":-0.94},{"x":1600,"y":-1,"x2":1600,"y2":-0.94},{"x":1800,"y":-1,"x2":1800,"y2":-0.94},{"x":1970,"y":0.5,"x2":2000,"y2":0.5},{"x":1970,"y":0,"x2":2000,"y2":0},{"x":1970,"y":-0.5,"x2":2000,"y2":-0.5}],
"bar":[{"x":2042,"x2":2133,"y":-1,"y2":1}],
"barTicks":[{"x":2042,"x2":2060,"y":0.5,"y2":0.5},{"x":2115,"x2":2133,"y":0.5,"y2":0.5},{"x":2042,"x2":2060,"y":0,"y2":0},{"x":2115,"x2":2133,"y":0,"y2":0},{"x":2042,"x2":2060,"y":-0.5,"y2":-0.5},{"x":2115,"x2":2133,"y":-0.5,"y2":-0.5}],
"barLabels":[{"x":2174,"y":1,"t":"20"},{"x":2174,"y":0.5,"t":"15"},{"x":2174,"y":0,"t":"10"},{"x":2174,"y":-0.5,"t":"5"},{"x":2174,"y":-1,"t":"0"}],
"notes":[
{"p":"A","x":556,"y":-0.53,"t":"Δm"},{"p":"A","x":900,"y":-0.53,"t":"=2.1 x 10"},{"p":"A","x":1525,"y":-0.53,"t":"[eV"},{"p":"A","x":1771,"y":-0.53,"t":"],"},{"p":"A","x":556,"y":-0.82,"t":"sin"},{"p":"A","x":774,"y":-0.82,"t":"(2Θ"},{"p":"A","x":1082,"y":-0.82,"t":") = 0.90"},
{"p":"B","x":566,"y":-0.53,"t":"Δm"},{"p":"B","x":910,"y":-0.53,"t":"=2.9 x 10"},{"p":"B","x":1535,"y":-0.53,"t":"[eV"},{"p":"B","x":1781,"y":-0.53,"t":"],"},{"p":"B","x":566,"y":-0.82,"t":"sin"},{"p":"B","x":784,"y":-0.82,"t":"(2Θ"},{"p":"B","x":1092,"y":-0.82,"t":") = 0.90"},
{"p":"C","x":556,"y":-0.59,"t":"Δm"},{"p":"C","x":900,"y":-0.59,"t":"=2.1 x 10"},{"p":"C","x":1525,"y":-0.59,"t":"[eV"},{"p":"C","x":1771,"y":-0.59,"t":"],"},{"p":"C","x":556,"y":-0.885,"t":"sin"},{"p":"C","x":774,"y":-0.885,"t":"(2Θ"},{"p":"C","x":1082,"y":-0.885,"t":") = 1.00"},
{"p":"D","x":566,"y":-0.59,"t":"Δm"},{"p":"D","x":910,"y":-0.59,"t":"=2.9 x 10"},{"p":"D","x":1535,"y":-0.59,"t":"[eV"},{"p":"D","x":1781,"y":-0.59,"t":"],"},{"p":"D","x":566,"y":-0.885,"t":"sin"},{"p":"D","x":784,"y":-0.885,"t":"(2Θ"},{"p":"D","x":1092,"y":-0.885,"t":") = 1.00"}],
"scripts":[
{"p":"A","x":750,"y":-0.45,"t":"2"},{"p":"A","x":798,"y":-0.584,"t":"23"},{"p":"A","x":1422,"y":-0.45,"t":"-3"},{"p":"A","x":1718,"y":-0.45,"t":"2"},{"p":"A","x":721,"y":-0.737,"t":"2"},{"p":"A","x":985,"y":-0.874,"t":"23"},
{"p":"B","x":760,"y":-0.45,"t":"2"},{"p":"B","x":808,"y":-0.584,"t":"23"},{"p":"B","x":1432,"y":-0.45,"t":"-3"},{"p":"B","x":1728,"y":-0.45,"t":"2"},{"p":"B","x":731,"y":-0.737,"t":"2"},{"p":"B","x":995,"y":-0.874,"t":"23"},
{"p":"C","x":750,"y":-0.51,"t":"2"},{"p":"C","x":798,"y":-0.645,"t":"23"},{"p":"C","x":1422,"y":-0.51,"t":"-3"},{"p":"C","x":1718,"y":-0.51,"t":"2"},{"p":"C","x":721,"y":-0.803,"t":"2"},{"p":"C","x":985,"y":-0.937,"t":"23"},
{"p":"D","x":760,"y":-0.51,"t":"2"},{"p":"D","x":808,"y":-0.645,"t":"23"},{"p":"D","x":1432,"y":-0.51,"t":"-3"},{"p":"D","x":1728,"y":-0.51,"t":"2"},{"p":"D","x":731,"y":-0.803,"t":"2"},{"p":"D","x":995,"y":-0.937,"t":"23"}]
},
"vconcat":[
{"width":2106,"height":19,"view":{"fill":"#f9994a","stroke":null},"data":{"values":[{"x":312,"y":0,"t":"("},{"x":1040,"y":0,"t":"p"},{"x":1800,"y":0,"t":")"}]},
 "mark":{"type":"text","clip":true,"font":"Liberation Serif","fontWeight":"bold","fontSize":85,"align":"center","baseline":"alphabetic","color":"#000"},
 "encoding":{"x":{"field":"x","type":"quantitative","scale":{"domain":[0,2106],"nice":false},"axis":null},"y":{"field":"y","type":"quantitative","scale":{"domain":[-25,-6],"nice":false,"zero":false},"axis":null},"text":{"field":"t"}}},
{"hconcat":[
 {"width":242,"height":1131,"view":{"fill":"#f9994a","stroke":null},"layer":[
  {"data":{"values":[{"x":0,"x2":7}]},"mark":{"type":"rect","color":"#e96f0c"},"encoding":{"x":{"field":"x","type":"quantitative","scale":{"domain":[0,242],"nice":false},"axis":null},"x2":{"field":"x2"}}},
  {"data":{"values":[{"x":102,"y":0.503,"t":"Very clear oscillation pattern"},{"x":203,"y":0.503,"t":"in the muon signal!"}]},"mark":{"type":"text","clip":true,"font":"Liberation Serif","fontWeight":"bold","fontSize":91,"angle":270,"align":"center","baseline":"alphabetic","color":"#000"},"encoding":{"x":{"field":"x","type":"quantitative","axis":null},"y":{"field":"y","type":"quantitative","scale":{"domain":[0,1]},"axis":null},"text":{"field":"t"}}}
 ]},
 {"vconcat":[
  {"hconcat":[
   {"width":916,"height":527,"view":{"fill":"#fff","stroke":null},
    "encoding":{"x":{"field":"x","type":"quantitative","scale":{"domain":[-24.5,1991],"nice":false,"zero":false},"axis":null},
     "y":{"field":"y","type":"quantitative","scale":{"domain":[-0.973,1.038],"nice":false,"zero":false},"axis":{"orient":"left","offset":-102,"values":[-0.5,0,0.5,1],"labelExpr":"''+datum.value","labelPadding":18,"title":"sin(Θ)","titleX":-68,"titleY":272}}},
    "layer":[
     {"data":{"name":"cells"},"transform":[{"filter":"isValid(datum.a)"}],"mark":{"type":"rect","clip":true,"width":18.6,"height":15},"encoding":{"color":{"field":"a","type":"quantitative","legend":null,"scale":{"domain":[0,1,2,3,4,5,6,7,8,9,10,12,14,16,18,20],"range":["#000000","#390060","#510096","#6301ce","#7202f2","#8004ff","#8c07f2","#970bce","#a11096","#ab174f","#b42000","#c63700","#d55700","#e48300","#f2ba00","#ffff00"]}}}},
     {"data":{"name":"frame"},"mark":{"type":"rule","clip":true,"color":"#444","strokeWidth":1.5},"encoding":{"x2":{"field":"x2"},"y2":{"field":"y2"}}},
     {"data":{"name":"notes"},"transform":[{"filter":"datum.p=='A'"}],"mark":{"type":"text","font":"Lato","fontWeight":"bold","fontSize":57,"align":"left","baseline":"alphabetic","color":"#2a62b8","stroke":"#5f8fd8","strokeWidth":2},"encoding":{"text":{"field":"t"}}},
     {"data":{"name":"scripts"},"transform":[{"filter":"datum.p=='A'"}],"mark":{"type":"text","font":"Lato","fontWeight":"bold","fontSize":38,"align":"left","baseline":"alphabetic","color":"#2a62b8","stroke":"#5f8fd8","strokeWidth":1.5},"encoding":{"text":{"field":"t"}}}
    ]},
   {"width":924,"height":527,"view":{"fill":"#fff","stroke":null},
    "encoding":{"x":{"field":"x","type":"quantitative","scale":{"domain":[198,2224],"nice":false,"zero":false},"axis":null},
     "y":{"field":"y","type":"quantitative","scale":{"domain":[-0.973,1.038],"nice":false,"zero":false},"axis":null}},
    "layer":[
     {"data":{"name":"cells"},"transform":[{"filter":"isValid(datum.b)"}],"mark":{"type":"rect","clip":true,"width":18.6,"height":15},"encoding":{"color":{"field":"b","type":"quantitative","legend":null,"scale":{"domain":[0,1,2,3,4,5,6,7,8,9,10,12,14,16,18,20],"range":["#000000","#390060","#510096","#6301ce","#7202f2","#8004ff","#8c07f2","#970bce","#a11096","#ab174f","#b42000","#c63700","#d55700","#e48300","#f2ba00","#ffff00"]}}}},
     {"data":{"name":"frame"},"mark":{"type":"rule","clip":true,"color":"#444","strokeWidth":1.5},"encoding":{"x2":{"field":"x2"},"y2":{"field":"y2"}}},
     {"data":{"name":"bar"},"mark":{"type":"rect","clip":true,"color":{"gradient":"linear","x1":0,"y1":1,"x2":0,"y2":0,"stops":[{"offset":0,"color":"#000000"},{"offset":0.1,"color":"#510096"},{"offset":0.25,"color":"#8004ff"},{"offset":0.4,"color":"#a11096"},{"offset":0.5,"color":"#b42000"},{"offset":0.7,"color":"#d55700"},{"offset":0.9,"color":"#f2ba00"},{"offset":1,"color":"#ffff00"}]}},"encoding":{"x2":{"field":"x2"},"y2":{"field":"y2"}}},
     {"data":{"name":"barTicks"},"mark":{"type":"rule","clip":true,"color":"#333","strokeWidth":1.5},"encoding":{"x2":{"field":"x2"},"y2":{"field":"y2"}}},
     {"data":{"name":"barLabels"},"mark":{"type":"text","clip":true,"font":"Liberation Sans","fontSize":21,"align":"left","baseline":"middle","color":"#666"},"encoding":{"text":{"field":"t"}}},
     {"data":{"name":"notes"},"transform":[{"filter":"datum.p=='B'"}],"mark":{"type":"text","font":"Lato","fontWeight":"bold","fontSize":57,"align":"left","baseline":"alphabetic","color":"#2a62b8","stroke":"#5f8fd8","strokeWidth":2},"encoding":{"text":{"field":"t"}}},
     {"data":{"name":"scripts"},"transform":[{"filter":"datum.p=='B'"}],"mark":{"type":"text","font":"Lato","fontWeight":"bold","fontSize":38,"align":"left","baseline":"alphabetic","color":"#2a62b8","stroke":"#5f8fd8","strokeWidth":1.5},"encoding":{"text":{"field":"t"}}}
    ]}
  ],"spacing":10,"bounds":"flush"},
  {"hconcat":[
   {"width":916,"height":593,"view":{"fill":"#fff","stroke":null},
    "encoding":{"x":{"field":"x","type":"quantitative","scale":{"domain":[-24.5,1991],"nice":false,"zero":false},"axis":{"orient":"bottom","offset":-76,"values":[200,400,600,800,1000,1200,1400,1600,1800],"labelExpr":"''+datum.value","labelPadding":19,"title":"Eμ[MeV]","titleX":511,"titleY":50}},
     "y":{"field":"y","type":"quantitative","scale":{"domain":[-1.29,0.973],"nice":false,"zero":false},"axis":{"orient":"left","offset":-102,"values":[-1,-0.5,0,0.5],"labelExpr":"''+datum.value","labelPadding":18,"title":"sin(Θ)","titleX":-68,"titleY":254}}},
    "layer":[
     {"data":{"name":"cells"},"transform":[{"filter":"isValid(datum.c)"}],"mark":{"type":"rect","clip":true,"width":18.6,"height":15},"encoding":{"color":{"field":"c","type":"quantitative","legend":null,"scale":{"domain":[0,1,2,3,4,5,6,7,8,9,10,12,14,16,18,20],"range":["#000000","#390060","#510096","#6301ce","#7202f2","#8004ff","#8c07f2","#970bce","#a11096","#ab174f","#b42000","#c63700","#d55700","#e48300","#f2ba00","#ffff00"]}}}},
     {"data":{"name":"frame"},"mark":{"type":"rule","clip":true,"color":"#444","strokeWidth":1.5},"encoding":{"x2":{"field":"x2"},"y2":{"field":"y2"}}},
     {"data":{"values":[{"x":2000,"y":-1.11,"t":"2000"}]},"mark":{"type":"text","clip":true,"font":"Liberation Sans","fontSize":21,"baseline":"middle","color":"#666"},"encoding":{"text":{"field":"t"}}},
     {"data":{"name":"notes"},"transform":[{"filter":"datum.p=='C'"}],"mark":{"type":"text","font":"Lato","fontWeight":"bold","fontSize":57,"align":"left","baseline":"alphabetic","color":"#2a62b8","stroke":"#5f8fd8","strokeWidth":2},"encoding":{"text":{"field":"t"}}},
     {"data":{"name":"scripts"},"transform":[{"filter":"datum.p=='C'"}],"mark":{"type":"text","font":"Lato","fontWeight":"bold","fontSize":38,"align":"left","baseline":"alphabetic","color":"#2a62b8","stroke":"#5f8fd8","strokeWidth":1.5},"encoding":{"text":{"field":"t"}}}
    ]},
   {"width":924,"height":593,"view":{"fill":"#fff","stroke":null},
    "encoding":{"x":{"field":"x","type":"quantitative","scale":{"domain":[198,2224],"nice":false,"zero":false},"axis":{"orient":"bottom","offset":-76,"values":[400,600,800,1000,1200,1400,1600,1800,2000],"labelExpr":"''+datum.value","labelPadding":19,"title":"Eμ[MeV]","titleX":411,"titleY":50}},
     "y":{"field":"y","type":"quantitative","scale":{"domain":[-1.29,0.973],"nice":false,"zero":false},"axis":null}},
    "layer":[
     {"data":{"name":"cells"},"transform":[{"filter":"isValid(datum.d)"}],"mark":{"type":"rect","clip":true,"width":18.6,"height":15},"encoding":{"color":{"field":"d","type":"quantitative","legend":null,"scale":{"domain":[0,1,2,3,4,5,6,7,8,9,10,12,14,16,18,20],"range":["#000000","#390060","#510096","#6301ce","#7202f2","#8004ff","#8c07f2","#970bce","#a11096","#ab174f","#b42000","#c63700","#d55700","#e48300","#f2ba00","#ffff00"]}}}},
     {"data":{"name":"frame"},"mark":{"type":"rule","clip":true,"color":"#444","strokeWidth":1.5},"encoding":{"x2":{"field":"x2"},"y2":{"field":"y2"}}},
     {"data":{"name":"bar"},"mark":{"type":"rect","clip":true,"color":{"gradient":"linear","x1":0,"y1":1,"x2":0,"y2":0,"stops":[{"offset":0,"color":"#000000"},{"offset":0.1,"color":"#510096"},{"offset":0.25,"color":"#8004ff"},{"offset":0.4,"color":"#a11096"},{"offset":0.5,"color":"#b42000"},{"offset":0.7,"color":"#d55700"},{"offset":0.9,"color":"#f2ba00"},{"offset":1,"color":"#ffff00"}]}},"encoding":{"x2":{"field":"x2"},"y2":{"field":"y2"}}},
     {"data":{"name":"barTicks"},"mark":{"type":"rule","clip":true,"color":"#333","strokeWidth":1.5},"encoding":{"x2":{"field":"x2"},"y2":{"field":"y2"}}},
     {"data":{"name":"barLabels"},"mark":{"type":"text","clip":true,"font":"Liberation Sans","fontSize":21,"align":"left","baseline":"middle","color":"#666"},"encoding":{"text":{"field":"t"}}},
     {"data":{"values":[{"x":200,"y":-1.11,"t":"200"}]},"mark":{"type":"text","clip":true,"font":"Liberation Sans","fontSize":21,"baseline":"middle","color":"#666"},"encoding":{"text":{"field":"t"}}},
     {"data":{"name":"notes"},"transform":[{"filter":"datum.p=='D'"}],"mark":{"type":"text","font":"Lato","fontWeight":"bold","fontSize":57,"align":"left","baseline":"alphabetic","color":"#2a62b8","stroke":"#5f8fd8","strokeWidth":2},"encoding":{"text":{"field":"t"}}},
     {"data":{"name":"scripts"},"transform":[{"filter":"datum.p=='D'"}],"mark":{"type":"text","font":"Lato","fontWeight":"bold","fontSize":38,"align":"left","baseline":"alphabetic","color":"#2a62b8","stroke":"#5f8fd8","strokeWidth":1.5},"encoding":{"text":{"field":"t"}}}
    ]}
  ],"spacing":10,"bounds":"flush"}
 ],"spacing":11}
],"spacing":14}
],"spacing":10}
